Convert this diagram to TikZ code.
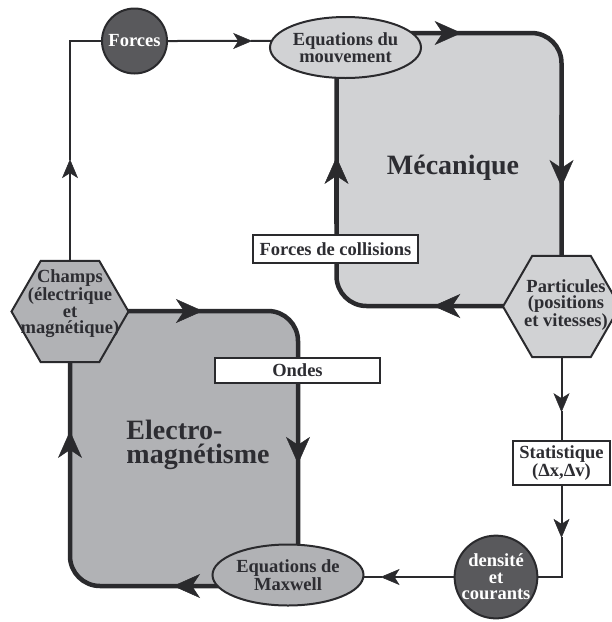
\documentclass[tikz,border=0pt]{standalone}
\usepackage{fontspec}
\setmainfont{Liberation Serif}
\usepackage{xcolor}
\usepackage{tikz}
\usetikzlibrary{calc,arrows.meta,shapes.geometric}
\definecolor{encre}{HTML}{2A2A2D}
\definecolor{texte}{HTML}{2D2D32}
\definecolor{clair}{HTML}{D1D2D4}
\definecolor{moyen}{HTML}{B1B2B5}
\definecolor{fonce}{HTML}{59595C}
% fleche fine au milieu d'un trait
\newcommand{\flechemid}[3][0.5]{
\coordinate (s) at (#2);
\coordinate (t) at (#3);
\coordinate (pointe) at ($(s)!#1!(t)$);
\draw[fleche] (s)      -- (pointe);
\draw[trait]  (pointe) -- (t);
}
% grosse fleche sur le bord d'un domaine
\newcommand{\grossefleche}[3][0.56]{
\coordinate (s) at ($(#2)!0.3!(#3)$);
\coordinate (t) at ($(#2)!#1!(#3)$);
\draw[bord, -{Stealth[length=27pt,width=24pt,inset=8pt,line width=0.5pt]}] (s) -- (t);
}

\begin{document}
\begin{tikzpicture}[x=1pt,y=-1pt,
  trait/.style={draw=encre, line width=2pt, line cap=rect},
  fleche/.style={trait, -{Stealth[length=19pt,width=16pt,inset=5pt,line width=0.5pt]}},
  bord/.style={draw=encre, line width=4.5pt},
  domaine/.style={bord, rectangle, rounded corners=30pt, inner sep=0pt, outer sep=0pt},
  petit/.style={font=\fontsize{18.5}{16.5}\selectfont\bfseries, text=texte, align=center},
  grand/.style={font=\fontsize{28}{24}\selectfont\bfseries, text=texte, align=left},
  bulle/.style={ellipse, trait, petit, inner sep=0pt, minimum width=151pt, minimum height=61pt},
  hexa/.style={regular polygon, regular polygon sides=6, trait, inner sep=0pt, minimum size=117pt},
  rond/.style={circle, trait, fill=fonce, petit, text=white, inner sep=0pt},
  cadre/.style={rectangle, trait, fill=white, petit, inner sep=0pt},
]
\useasboundingbox (0,0) rectangle (612,622);

% les deux domaines
\node[domaine, fill=clair, minimum width=225pt, minimum height=273pt] at (449, 169.5) (meca) {};
\node[domaine, fill=moyen, minimum width=228pt, minimum height=275pt] at (184, 448.5) (elec) {};
\node[grand] at (453, 168) (mecaT) {Mécanique};
\node[grand] at (198, 445) (elecT) {Electro-\\magnétisme};

\grossefleche[0.556]{meca.north west}{meca.north east}
\grossefleche[0.564]{meca.north east}{meca.south east}
\grossefleche[0.57]{meca.south east}{meca.south west}
\grossefleche[0.546]{meca.south west}{meca.north west}
\grossefleche[0.583]{elec.north west}{elec.north east}
\grossefleche[0.556]{elec.north east}{elec.south east}
\grossefleche[0.548]{elec.south east}{elec.south west}
\grossefleche[0.564]{elec.south west}{elec.north west}

% les etapes
\node[rond, minimum size=65pt] at (134.5, 41) (forces) {Forces};
\node[bulle, fill=clair] at (345.5, 47.5) (mouv) {Equations du\\mouvement};
\node[hexa, fill=clair] at (561.5, 306.5) (part) {};
\node[petit] at (566, 305) (partT) {Particules\\(positions\\et vitesses)};
\node[cadre, minimum width=97pt, minimum height=44pt] at (561.5, 463) (stat) {Statistique\\(Δx,Δv)};
\node[rond, minimum size=82pt] at (496, 577) (dens) {densité\\et\\courants};
\node[bulle, fill=moyen] at (288, 575) (maxw) {Equations de\\Maxwell};
\node[hexa, fill=moyen] at (70, 311.5) (champs) {};
\node[petit] at (70, 304) (champsT) {Champs\\(électrique\\et\\magnétique)};
\node[cadre, minimum width=165pt, minimum height=28pt] at (335.5, 249) (coll) {Forces de collisions};
\node[cadre, minimum width=165pt, minimum height=25pt] at (297.5, 370.5) (ondes) {Ondes};

% les liaisons
\coordinate (coinHG) at (champs |- forces);
\coordinate (coinBD) at (stat |- dens);
\flechemid[0.46]{champs.north}{coinHG}
\draw[trait] (coinHG) -- (forces);
\flechemid[0.82]{forces.east}{mouv.175}
\flechemid[0.66]{part.south}{stat.north}
\flechemid[0.57]{stat.south}{coinBD}
\draw[trait] (coinBD) -- (dens);
\flechemid[0.82]{dens.west}{dens -| maxw.east}
\end{tikzpicture}
\end{document}
